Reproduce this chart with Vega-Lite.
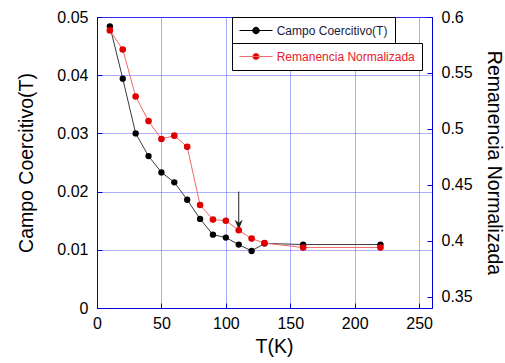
{
  "$schema": "https://vega.github.io/schema/vega-lite/v6.json",
  "width": 335,
  "height": 291,
  "autosize": {"type": "none"},
  "padding": {"left": 97, "top": 17, "right": 73, "bottom": 55},
  "background": "white",
  "config": {
    "font": "Liberation Sans",
    "view": {"stroke": "#0000dd", "strokeWidth": 1},
    "axis": {
      "domainColor": "#0000dd",
      "tickColor": "#0000dd",
      "tickSize": -5,
      "labelFont": "Liberation Sans",
      "labelFontSize": 16,
      "labelColor": "#000000",
      "titleFont": "Liberation Sans",
      "titleFontSize": 19.5,
      "titleFontWeight": "normal",
      "titleColor": "#000000",
      "gridColor": "#5a5aff",
      "gridDash": [1, 1],
      "gridOpacity": 1
    }
  },
  "datasets": {
    "medidas": [
      {"T": 10, "campo": 0.0484, "reman": 0.588},
      {"T": 20, "campo": 0.0394, "reman": 0.571},
      {"T": 30, "campo": 0.0300, "reman": 0.529},
      {"T": 40, "campo": 0.0261, "reman": 0.507},
      {"T": 50, "campo": 0.0233, "reman": 0.491},
      {"T": 60, "campo": 0.0216, "reman": 0.494},
      {"T": 70, "campo": 0.0186, "reman": 0.484},
      {"T": 80, "campo": 0.0153, "reman": 0.432},
      {"T": 90, "campo": 0.0126, "reman": 0.419},
      {"T": 100, "campo": 0.0121, "reman": 0.418},
      {"T": 110, "campo": 0.0109, "reman": 0.4095},
      {"T": 120, "campo": 0.0098, "reman": 0.402},
      {"T": 130, "campo": 0.0111, "reman": 0.398},
      {"T": 160, "campo": 0.0109, "reman": 0.394},
      {"T": 220, "campo": 0.0109, "reman": 0.394}
    ],
    "flecha": [
      {"T": 110, "desde": 0.02, "hasta": 0.0145, "punta": 0.0143}
    ]
  },
  "layer": [
    {
      "layer": [
        {
          "data": {"name": "medidas"},
          "mark": {"type": "line", "color": "#3a3a3a", "strokeWidth": 1},
          "encoding": {
            "x": {
              "field": "T", "type": "quantitative",
              "scale": {"domain": [0, 250]},
              "axis": {
                "title": "T(K)",
                "values": [0, 50, 100, 150, 200, 250],
                "format": "d",
                "labelFlush": false,
                "grid": true,
                "labelPadding": 12,
                "titlePadding": 6,
                "titleX": 177
              }
            },
            "y": {
              "field": "campo", "type": "quantitative",
              "scale": {"domain": [0, 0.05]},
              "axis": {
                "orient": "left",
                "title": "Campo Coercitivo(T)",
                "values": [0, 0.01, 0.02, 0.03, 0.04, 0.05],
                "format": "~g",
                "grid": true,
                "labelPadding": 14,
                "titlePadding": 20
              }
            }
          }
        },
        {
          "data": {"name": "medidas"},
          "mark": {"type": "point", "filled": true, "size": 40, "opacity": 1},
          "encoding": {
            "x": {"field": "T", "type": "quantitative"},
            "y": {"field": "campo", "type": "quantitative"},
            "color": {
              "datum": "Campo Coercitivo(T)",
              "type": "nominal",
              "scale": {"range": ["#000000"]},
              "legend": {
                "orient": "none",
                "legendX": 135,
                "legendY": 0,
                "title": null,
                "padding": 7,
                "strokeColor": "#000000",
                "fillColor": "#ffffff",
                "cornerRadius": 0,
                "symbolType": "M-1,0L4.5,0M1.2,0A0.55,0.55 0 1,0 2.3,0A0.55,0.55 0 1,0 1.2,0",
                "symbolSize": 144,
                "symbolStrokeWidth": 1,
                "symbolStrokeColor": "#000000",
                "symbolFillColor": "#000000",
                "labelOffset": 24.7,
                "labelFont": "Liberation Sans",
                "labelFontSize": 12,
                "labelColor": "#1a1a40",
                "encode": {
                  "symbols": {
                    "update": {
                      "stroke": {"value": "#000000"},
                      "strokeWidth": {"value": 1},
                      "fill": {"value": "#000000"},
                      "opacity": {"value": 1}
                    }
                  }
                }
              }
            }
          }
        },
        {
          "data": {"name": "flecha"},
          "mark": {"type": "rule", "color": "#222222", "strokeWidth": 1},
          "encoding": {
            "x": {"field": "T", "type": "quantitative"},
            "y": {"field": "desde", "type": "quantitative"},
            "y2": {"field": "hasta"}
          }
        },
        {
          "data": {"name": "flecha"},
          "mark": {
            "type": "point",
            "shape": "M-0.8,-1L0,1L0.8,-1L0,-0.4Z",
            "filled": true,
            "size": 100,
            "color": "#222222",
            "opacity": 1
          },
          "encoding": {
            "x": {"field": "T", "type": "quantitative"},
            "y": {"field": "punta", "type": "quantitative"}
          }
        }
      ]
    },
    {
      "layer": [
        {
          "data": {"name": "medidas"},
          "mark": {"type": "line", "color": "#f06868", "strokeWidth": 1},
          "encoding": {
            "x": {"field": "T", "type": "quantitative"},
            "y": {
              "field": "reman", "type": "quantitative",
              "scale": {"domain": [0.35, 0.6]},
              "axis": {
                "orient": "right",
                "title": "Remanencia Normalizada",
                "values": [0.35, 0.4, 0.45, 0.5, 0.55, 0.6],
                "format": "~g",
                "grid": false,
                "labelPadding": 14,
                "titlePadding": 11
              }
            }
          }
        },
        {
          "data": {"name": "medidas"},
          "mark": {"type": "point", "filled": true, "size": 44, "opacity": 1},
          "encoding": {
            "x": {"field": "T", "type": "quantitative"},
            "y": {"field": "reman", "type": "quantitative"},
            "color": {
              "datum": "Remanencia Normalizada",
              "type": "nominal",
              "scale": {"range": ["#e00000"]},
              "legend": {
                "orient": "none",
                "legendX": 135,
                "legendY": 26,
                "title": null,
                "padding": 7,
                "strokeColor": "#000000",
                "fillColor": "#ffffff",
                "cornerRadius": 0,
                "symbolType": "M-1,0L4.5,0M1.2,0A0.55,0.55 0 1,0 2.3,0A0.55,0.55 0 1,0 1.2,0",
                "symbolSize": 144,
                "symbolStrokeWidth": 1,
                "symbolStrokeColor": "#f06868",
                "symbolFillColor": "#e00000",
                "labelOffset": 24.7,
                "labelFont": "Liberation Sans",
                "labelFontSize": 12,
                "labelColor": "#e8202c",
                "encode": {
                  "symbols": {
                    "update": {
                      "stroke": {"value": "#f06868"},
                      "strokeWidth": {"value": 1},
                      "fill": {"value": "#e00000"},
                      "opacity": {"value": 1}
                    }
                  }
                }
              }
            }
          }
        }
      ]
    }
  ],
  "resolve": {"scale": {"y": "independent", "color": "independent"}}
}
